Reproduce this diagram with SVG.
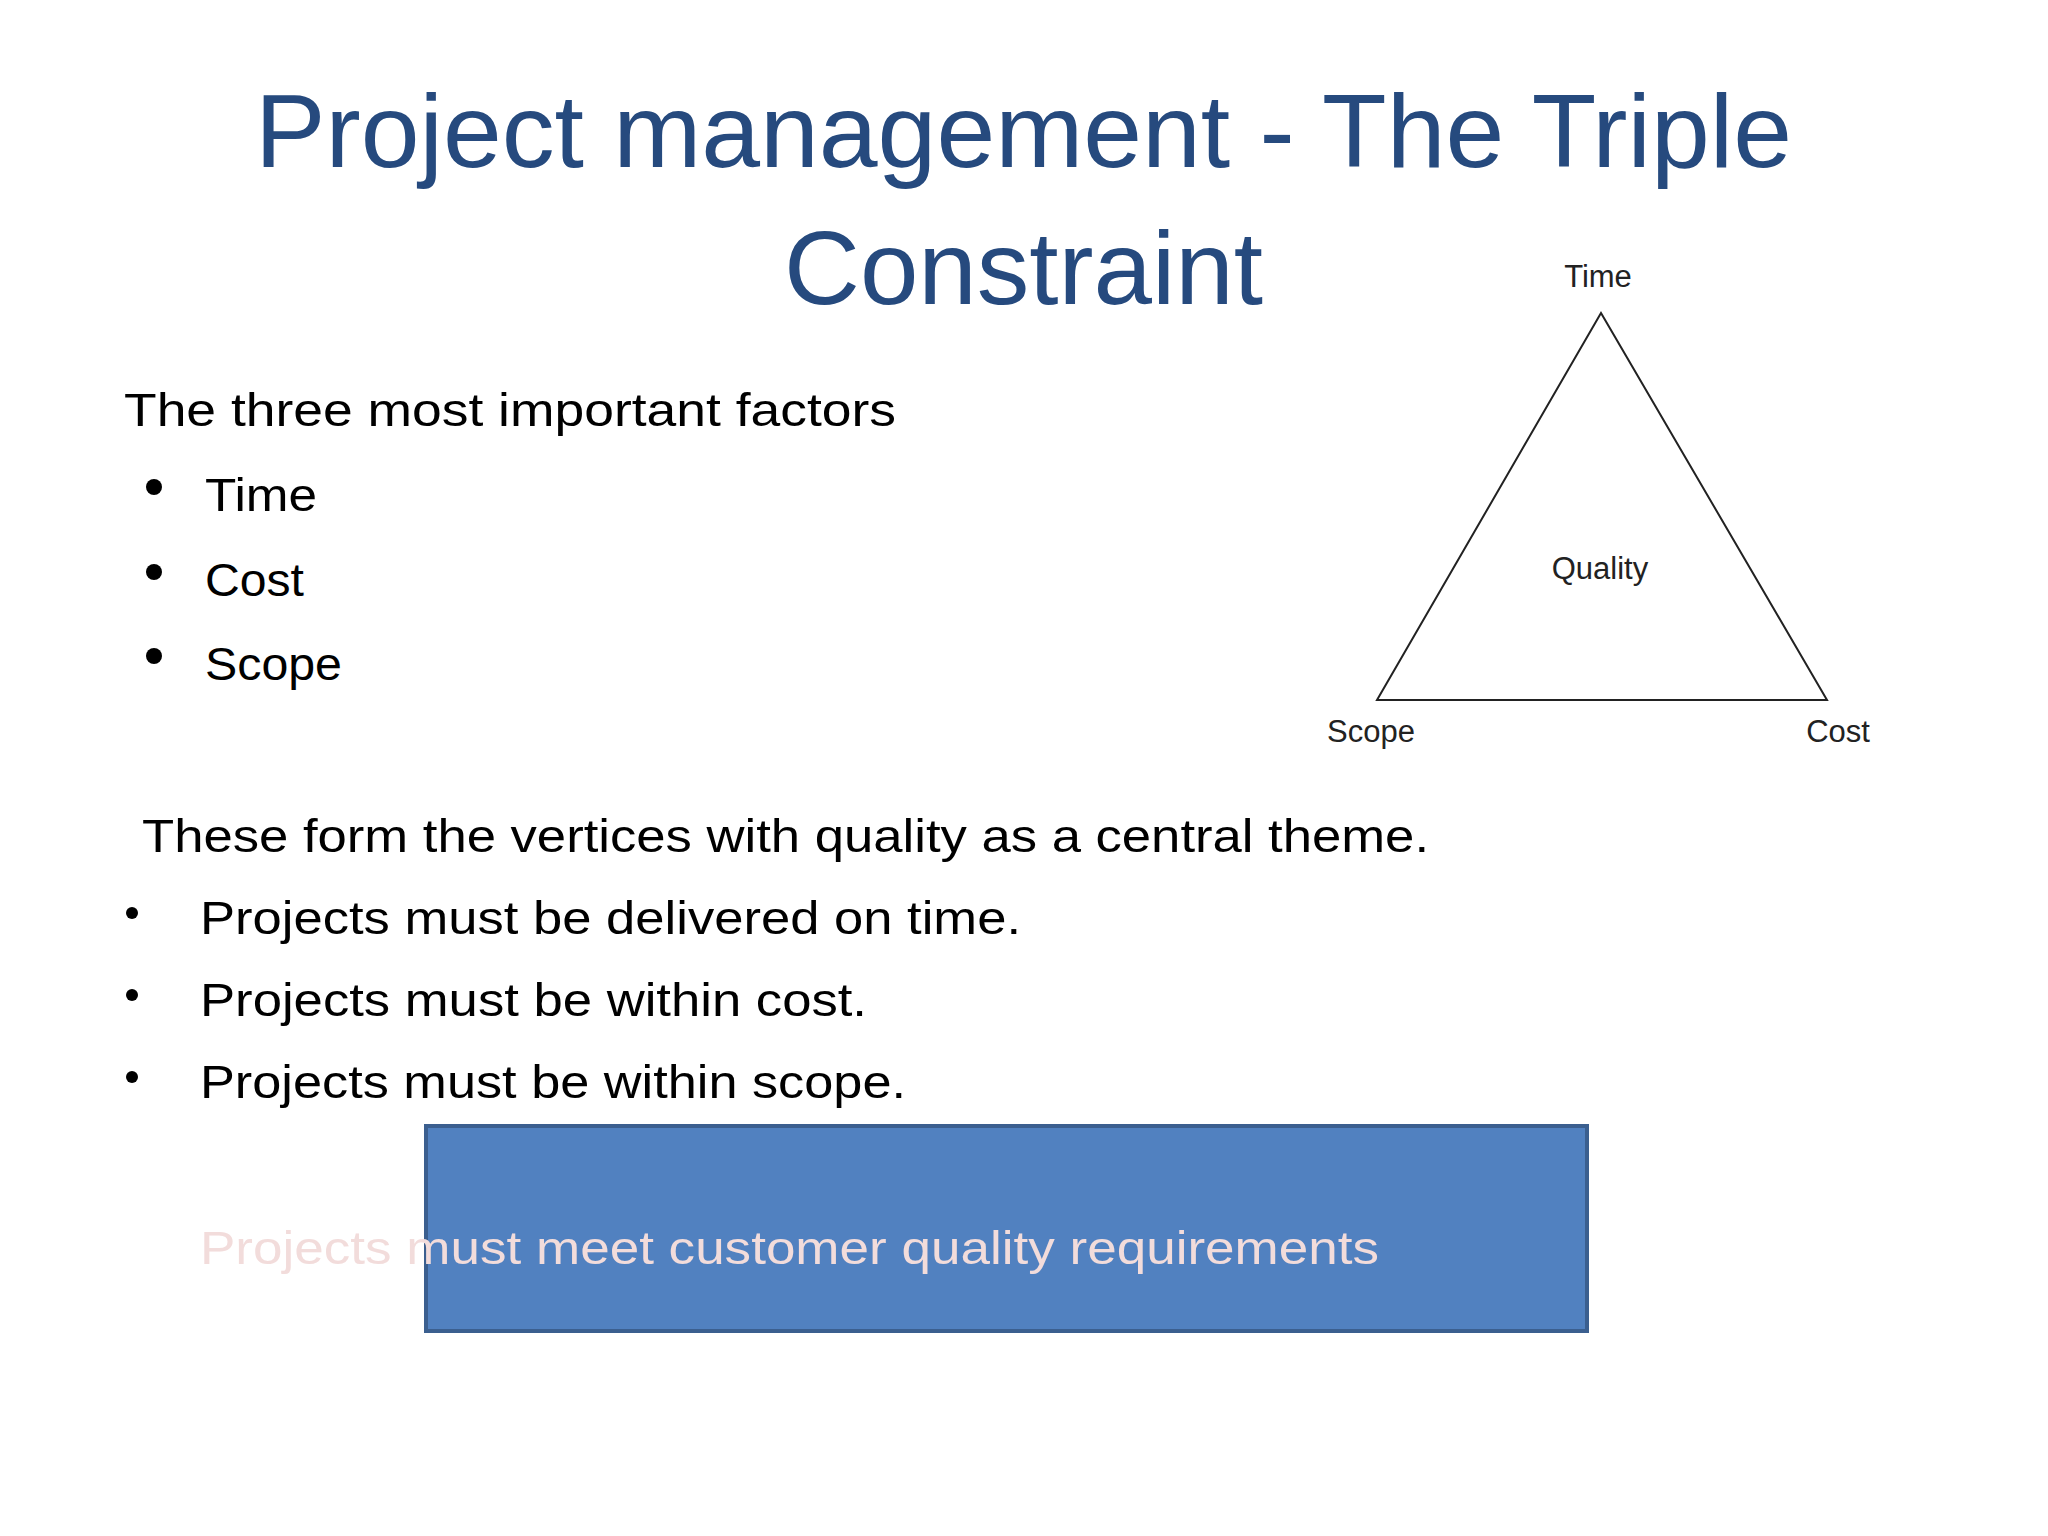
<svg xmlns="http://www.w3.org/2000/svg" width="2048" height="1536" viewBox="0 0 2048 1536">
<style>
.t{font-family:"Liberation Sans",Arial,sans-serif;fill:#264a7e;font-size:104px}
.b{font-family:"Liberation Sans",Arial,sans-serif;fill:#000;font-size:47px}
.s{font-family:"Liberation Sans",Arial,sans-serif;fill:#222;font-size:31px}
</style>
<rect width="2048" height="1536" fill="#fff"/>
<g id="title">
<text class="t" x="255" y="167" textLength="1537" lengthAdjust="spacingAndGlyphs">Project management -  The Triple</text>
<text class="t" x="784" y="304" textLength="479" lengthAdjust="spacingAndGlyphs">Constraint</text>
</g>
<g id="factors">
<text class="b" x="124" y="426" textLength="772" lengthAdjust="spacingAndGlyphs">The three most important factors</text>
<circle cx="154" cy="487" r="8"/><text class="b" x="205" y="511" textLength="112" lengthAdjust="spacingAndGlyphs">Time</text>
<circle cx="154" cy="572" r="8"/><text class="b" x="205" y="596" textLength="99" lengthAdjust="spacingAndGlyphs">Cost</text>
<circle cx="154" cy="656" r="8"/><text class="b" x="205" y="680" textLength="137" lengthAdjust="spacingAndGlyphs">Scope</text>
</g>
<g id="vertices">
<text class="b" x="142" y="852" textLength="1287" lengthAdjust="spacingAndGlyphs">These form the vertices with quality as a central theme.</text>
<circle cx="132" cy="913" r="6"/><text class="b" x="200" y="934" textLength="821" lengthAdjust="spacingAndGlyphs">Projects must be delivered on time.</text>
<circle cx="132" cy="995" r="6"/><text class="b" x="200" y="1016" textLength="667" lengthAdjust="spacingAndGlyphs">Projects must be within cost.</text>
<circle cx="132" cy="1077" r="6"/><text class="b" x="200" y="1098" textLength="706" lengthAdjust="spacingAndGlyphs">Projects must be within scope.</text>
</g>
<g id="box">
<rect x="426" y="1126" width="1161" height="205" fill="#5181c0" stroke="#3b5f8f" stroke-width="4"/>
<text class="b" x="200" y="1264" fill="#f2dcdb" style="fill:#f2dcdb" textLength="1179" lengthAdjust="spacingAndGlyphs">Projects must meet customer quality requirements</text>
</g>
<g id="triangle">
<polygon points="1601,313 1377,700 1827,700" fill="none" stroke="#222" stroke-width="2"/>
<text class="s" x="1598" y="287" text-anchor="middle">Time</text>
<text class="s" x="1600" y="579" text-anchor="middle">Quality</text>
<text class="s" x="1371" y="742" text-anchor="middle">Scope</text>
<text class="s" x="1838" y="742" text-anchor="middle">Cost</text>
</g>
</svg>
